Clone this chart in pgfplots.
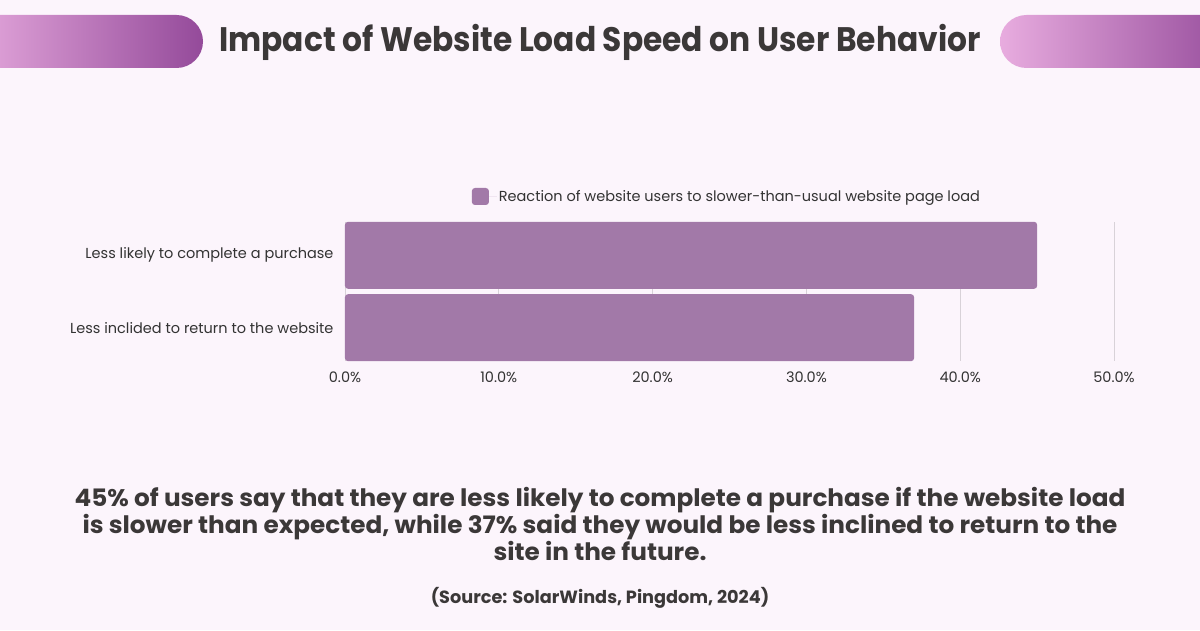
\documentclass[border=0pt]{standalone}
\usepackage{pgfplots}
\pgfplotsset{compat=1.18}
\usepackage{fontspec}
\setmainfont{Poppins}
\newfontfamily\titlefont[FakeStretch=0.92]{Poppins}
\newfontfamily\bodyfont[FakeStretch=1.03]{Poppins}
\newfontfamily\srcfont{Poppins}
\newfontfamily\axfont{Poppins}
\definecolor{bg}{HTML}{FCF5FC}
\definecolor{barc}{HTML}{A279A8}
\definecolor{pinkL}{HTML}{E8ACDF}
\definecolor{purpD}{HTML}{944A9A}
\definecolor{txt}{HTML}{3B3838}
\definecolor{axt}{HTML}{333333}
\definecolor{gridc}{HTML}{D8D2D8}
\begin{document}
\begin{tikzpicture}[x=1pt,y=1pt]
\fill[bg] (0,0) rectangle (1200,630);
\begin{scope}
\clip (0,0) rectangle (1200,630);
\shade[left color=pinkL, right color=purpD, rounded corners=26.5pt] (-40,562) rectangle (203,615);
\shade[left color=pinkL, right color=purpD, rounded corners=26.5pt] (1000,562) rectangle (1240,615);
\end{scope}
\node[anchor=base, text=txt, inner sep=0] at (600,578) {\titlefont\fontsize{34}{40}\selectfont\bfseries Impact of Website Load Speed on User Behavior};
\begin{axis}[
  at={(345pt,269pt)}, anchor=south west, scale only axis,
  width=769pt, height=139pt,
  xbar, bar width=67pt,
  xmin=0, xmax=50, ymin=-0.46, ymax=1.46,
  ytick={0,1},
  yticklabels={Less inclided to return to the website, Less likely to complete a purchase},
  xtick={0,10,20,30,40,50},
  xticklabel={\pgfmathprintnumber[fixed,fixed zerofill,precision=1]{\tick}\%},
  /pgf/number format/assume math mode=true,
  axis line style={draw=none},
  major tick length=0pt,
  xmajorgrids, grid style={gridc, line width=0.8pt},
  tick label style={font=\axfont\fontsize{14.5}{16}\selectfont, text=axt},
  xticklabel style={yshift=-7pt},
  yticklabel style={xshift=-8pt},
  legend style={draw=none, fill=none, at={(0.165,1)}, anchor=south west, yshift=17pt, inner sep=0pt, outer sep=0pt, font=\axfont\fontsize{14.5}{16}\selectfont, text=axt},
  legend image code/.code={\path (0pt,0pt) -- (25pt,0pt);\fill[barc] (0pt,-8.5pt) rectangle (17pt,8.5pt);},
  clip=false,
]
\addplot[fill=barc, draw=none, rounded corners=3pt] coordinates {(37,0) (45,1)};
\addlegendentry{Reaction of website users to slower-than-usual website page load}
\end{axis}
\node[anchor=base, text=txt, inner sep=0, align=center] at (600,124) {\bodyfont\fontsize{24}{27}\selectfont\bfseries 45\% of users say that they are less likely to complete a purchase if the website load};
\node[anchor=base, text=txt, inner sep=0, align=center] at (600,97) {\bodyfont\fontsize{24}{27}\selectfont\bfseries is slower than expected, while 37\% said they would be less inclined to return to the};
\node[anchor=base, text=txt, inner sep=0, align=center] at (600,70) {\bodyfont\fontsize{24}{27}\selectfont\bfseries site in the future.};
\node[anchor=base, text=txt, inner sep=0] at (600,27) {\srcfont\fontsize{17.7}{20}\selectfont\bfseries (Source: SolarWinds, Pingdom, 2024)};
\end{tikzpicture}
\end{document}
